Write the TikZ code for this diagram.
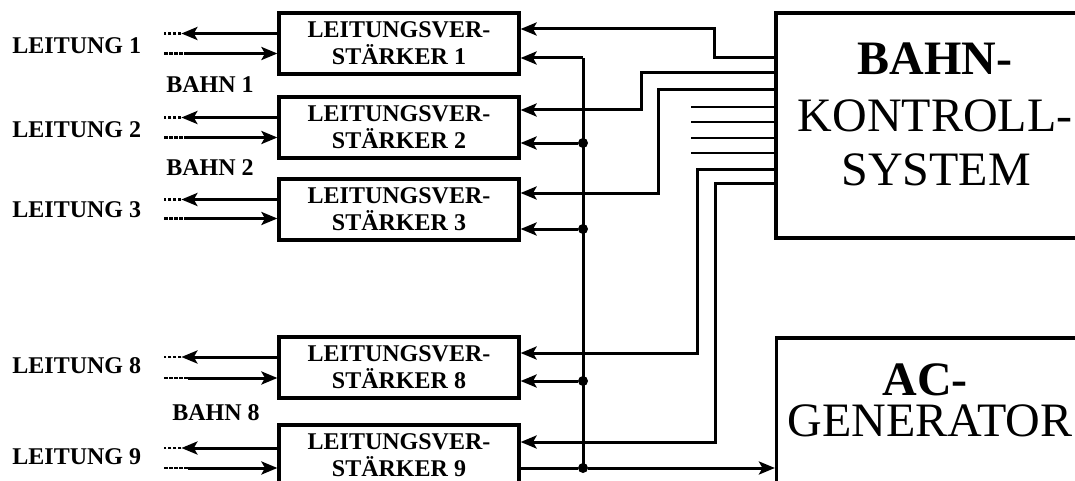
\documentclass[tikz,border=0pt]{standalone}
\usepackage{fontspec}
\setmainfont{Liberation Serif}
\usetikzlibrary{arrows.meta,positioning,calc}

\begin{document}
\begin{tikzpicture}[
    x=0.5pt, y=-0.5pt,
    amp/.style={draw, rectangle, line width=1.6pt, minimum width=120pt, minimum height=30.5pt,
                inner sep=0pt, align=center, font=\bfseries\fontsize{12}{13.5}\selectfont},
    unit/.style={draw, rectangle, line width=1.6pt, minimum width=159pt, minimum height=112.5pt, inner sep=0pt},
    bigtxt/.style={anchor=base, inner sep=0pt, font=\fontsize{24}{27.5}\selectfont},
    lbl/.style={anchor=west, inner sep=0pt, font=\bfseries\fontsize{12}{14}\selectfont},
    sig/.style={line width=1.5pt, >={Stealth[length=8pt,width=6.5pt,inset=1.8pt]}},
    lead/.style={line width=1.1pt, dash pattern=on 1.6pt off 0.9pt},
    stub/.style={line width=1.4pt},
    dot/.style={circle, fill, minimum size=5pt, inner sep=0pt},
]
\useasboundingbox (0,0) rectangle (1075,481);
\clip (0,0) rectangle (1075,481);

% Amplifiers
\node[amp] (amp1) at (399,43.5)  {LEITUNGSVER-\\STÄRKER 1};
\node[amp] (amp2) at (399,127.5) {LEITUNGSVER-\\STÄRKER 2};
\node[amp] (amp3) at (399,209.5) {LEITUNGSVER-\\STÄRKER 3};
\node[amp] (amp8) at (399,367.5) {LEITUNGSVER-\\STÄRKER 8};
\node[amp] (amp9) at (399,455.5) {LEITUNGSVER-\\STÄRKER 9};

% Control system and generator
\node[unit] (ctrl) at (935,125.5) {};
\node[bigtxt] (ctrltxt1) at (935,75)  {\bfseries BAHN-};
\node[bigtxt] (ctrltxt2) at (935,132) {KONTROLL-};
\node[bigtxt] (ctrltxt3) at (936,185) {SYSTEM};
\node[unit] (acgen) at (935.5,450.5) {};
\node[bigtxt] (actxt1) at (925,395) {\bfseries AC-};
\node[bigtxt] (actxt2) at (930,436) {GENERATOR};

% Line labels
\node[lbl] (lt1) at (12,45.5)  {LEITUNG 1};
\node[lbl] (lt2) at (12,130)   {LEITUNG 2};
\node[lbl] (lt3) at (12,209.5) {LEITUNG 3};
\node[lbl] (lt8) at (12,366)   {LEITUNG 8};
\node[lbl] (lt9) at (12,456.5) {LEITUNG 9};
\node[lbl] (bahn1) at (166,84.5) {BAHN 1};
\node[lbl] (bahn2) at (166,167.5) {BAHN 2};
\node[lbl] (bahn8) at (172,413) {BAHN 8};

% Amplifier inputs on the right
\coordinate (a1hi) at ($(amp1.east)+(0,-14.5)$);
\coordinate (a1lo) at ($(amp1.east)+(0,14.5)$);
\coordinate (a2hi) at ($(amp2.east)+(0,-17.5)$);
\coordinate (a2lo) at ($(amp2.east)+(0,15.5)$);
\coordinate (a3hi) at ($(amp3.east)+(0,-16.5)$);
\coordinate (a3lo) at ($(amp3.east)+(0,19.5)$);
\coordinate (a8hi) at ($(amp8.east)+(0,-14.5)$);
\coordinate (a8lo) at ($(amp8.east)+(0,13.5)$);
\coordinate (a9hi) at ($(amp9.east)+(0,-13.5)$);
\coordinate (a9lo) at ($(amp9.east)+(0,12.5)$);

% Control system pins
\coordinate (k1) at (ctrl.west |- 0,58);
\coordinate (k2) at (ctrl.west |- 0,73);
\coordinate (k3) at (ctrl.west |- 0,90);
\coordinate (k4) at (ctrl.west |- 0,107);
\coordinate (k5) at (ctrl.west |- 0,122);
\coordinate (k6) at (ctrl.west |- 0,138);
\coordinate (k7) at (ctrl.west |- 0,153);
\coordinate (k8) at (ctrl.west |- 0,169);
\coordinate (k9) at (ctrl.west |- 0,183);

% Line 1
\draw[sig,->] ($(amp1.west)+(0,-10)$) -- ++(-96,0) coordinate (l1a);
\draw[lead] (l1a) -- ++(-17,0);
\draw[lead] ($(amp1.west)+(-113,10)$) -- ++(24,0) coordinate (l1b);
\draw[sig,->] (l1b) -- ($(amp1.west)+(0,10)$);

% Line 2
\draw[sig,->] ($(amp2.west)+(0,-10)$) -- ++(-96,0) coordinate (l2a);
\draw[lead] (l2a) -- ++(-17,0);
\draw[lead] ($(amp2.west)+(-113,10)$) -- ++(24,0) coordinate (l2b);
\draw[sig,->] (l2b) -- ($(amp2.west)+(0,10)$);

% Line 3
\draw[sig,->] ($(amp3.west)+(0,-10)$) -- ++(-96,0) coordinate (l3a);
\draw[lead] (l3a) -- ++(-17,0);
\draw[lead] ($(amp3.west)+(-113,9)$) -- ++(24,0) coordinate (l3b);
\draw[sig,->] (l3b) -- ($(amp3.west)+(0,9)$);

% Line 8
\draw[sig,->] ($(amp8.west)+(0,-10.5)$) -- ++(-96,0) coordinate (l8a);
\draw[lead] (l8a) -- ++(-17,0);
\draw[lead] ($(amp8.west)+(-113,10.5)$) -- ++(24,0) coordinate (l8b);
\draw[sig,->] (l8b) -- ($(amp8.west)+(0,10.5)$);

% Line 9
\draw[sig,->] ($(amp9.west)+(0,-7.5)$) -- ++(-96,0) coordinate (l9a);
\draw[lead] (l9a) -- ++(-17,0);
\draw[lead] ($(amp9.west)+(-113,12.5)$) -- ++(24,0) coordinate (l9b);
\draw[sig,->] (l9b) -- ($(amp9.west)+(0,12.5)$);

% Control lines
\draw[sig,->] (k1) -- ++(-60,0) |- (a1hi);
\draw[sig,->] (k2) -- ++(-133,0) |- (a2hi);
\draw[sig,->] (k3) -- ++(-116,0) |- (a3hi);
\draw[stub] (k4) -- ++(-83,0);
\draw[stub] (k5) -- ++(-83,0);
\draw[stub] (k6) -- ++(-83,0);
\draw[stub] (k7) -- ++(-83,0);
\draw[sig,->] (k8) -- ++(-77,0) |- (a8hi);
\draw[sig,->] (k9) -- ++(-59,0) |- (a9hi);

% Generator bus
\coordinate (bus) at (583,58);
\node[dot] (d2) at (bus |- a2lo) {};
\node[dot] (d3) at (bus |- a3lo) {};
\node[dot] (d8) at (bus |- a8lo) {};
\node[dot] (d9) at (bus |- a9lo) {};
\draw[sig] (bus) -- (d9.center);
\draw[sig,->] (bus) -- (a1lo);
\draw[sig,->] (d2) -- (a2lo);
\draw[sig,->] (d3) -- (a3lo);
\draw[sig,->] (d8) -- (a8lo);
\draw[sig] (a9lo) -- (d9);
\draw[sig,->] (d9) -- (acgen.west |- d9);
\end{tikzpicture}
\end{document}
